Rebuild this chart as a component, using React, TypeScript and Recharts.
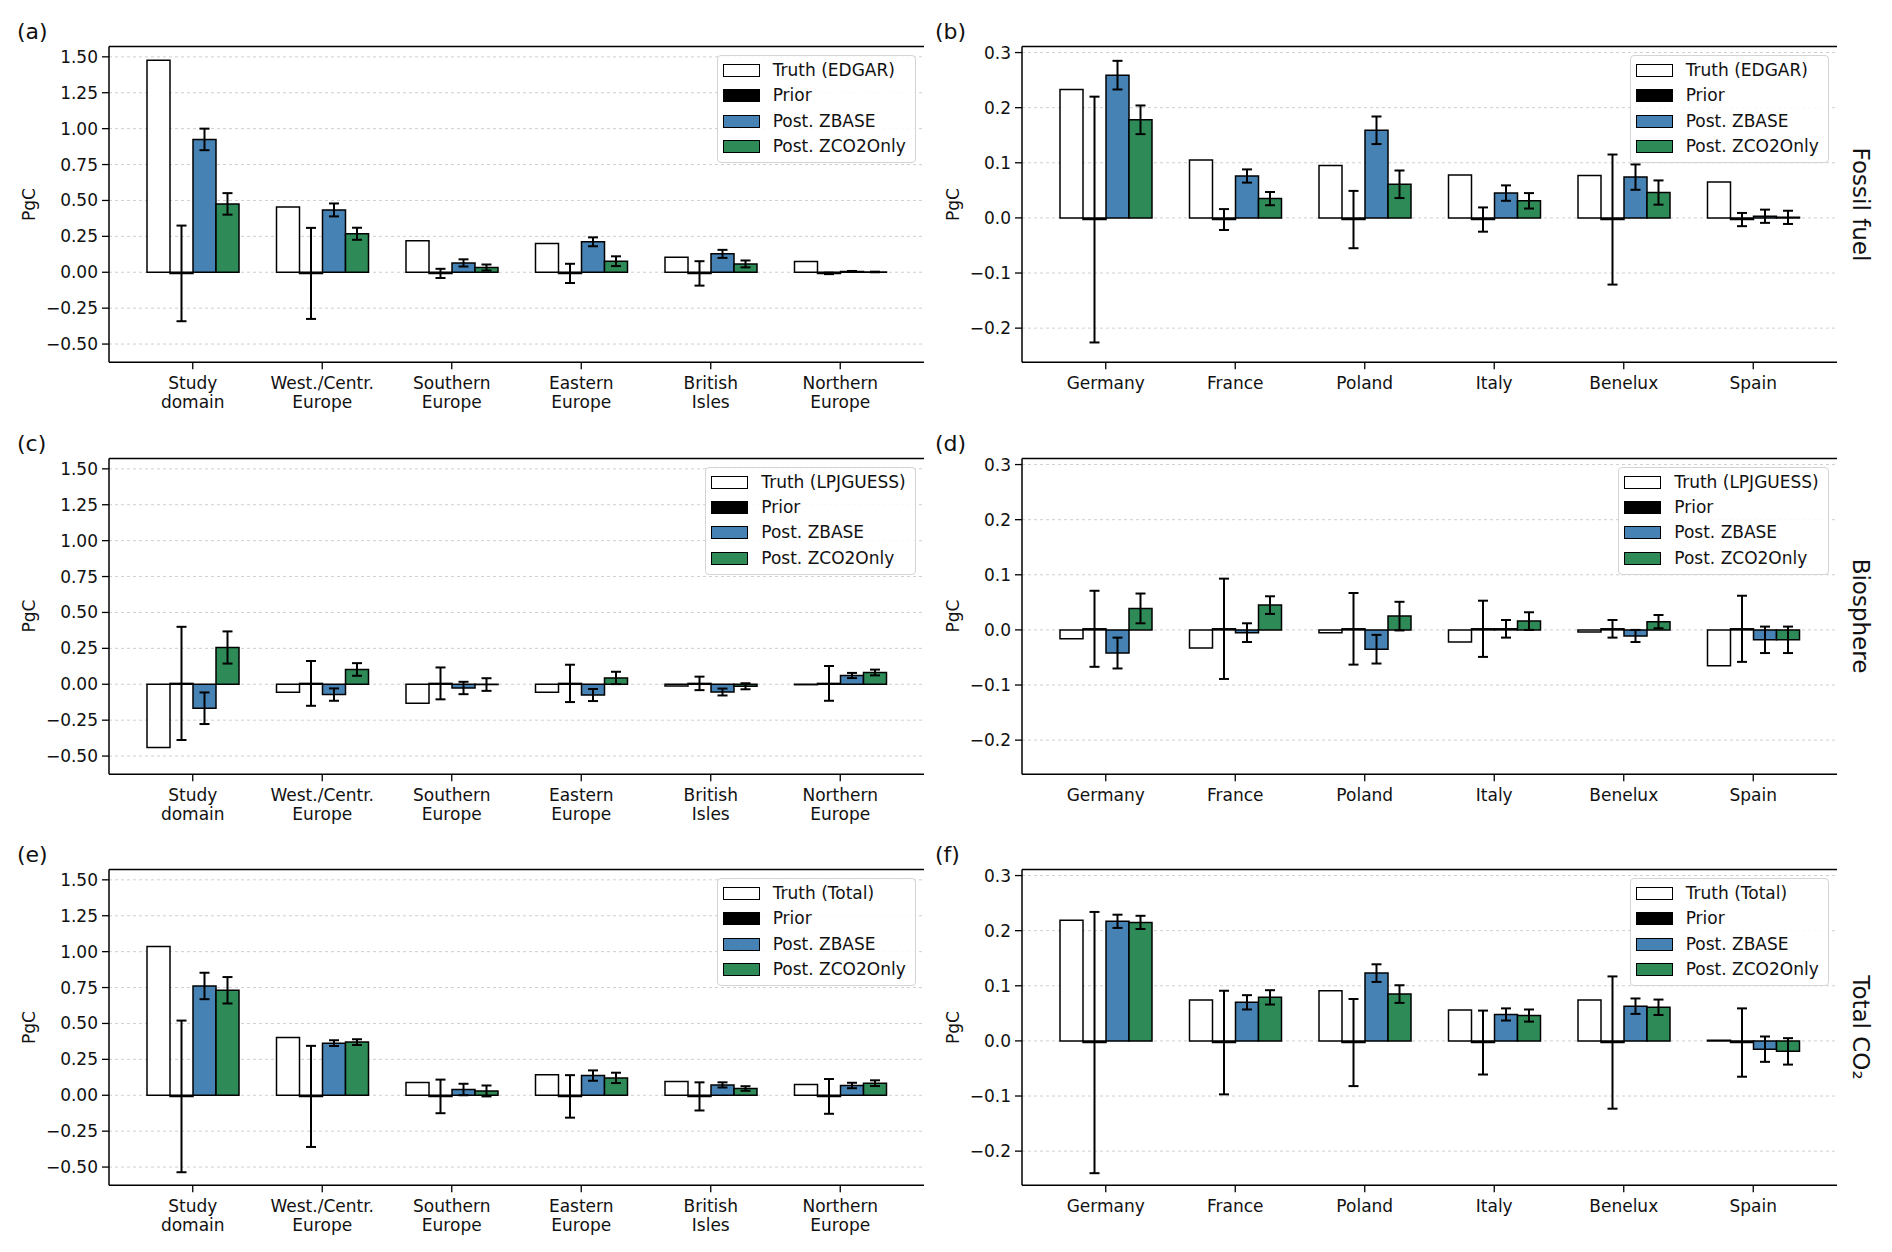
import React from 'react'
import { BarChart, Bar, XAxis, YAxis, CartesianGrid, ErrorBar, Legend, ReferenceLine } from 'recharts'

const FONT = '"DejaVu Sans", sans-serif'
const INK = '#111111'
const BLUE = '#4682b4'
const GREEN = '#2e8b57'

// categories
const regions = ['Study\ndomain', 'West./Centr.\nEurope', 'Southern\nEurope', 'Eastern\nEurope', 'British\nIsles', 'Northern\nEurope']
const countries = ['Germany', 'France', 'Poland', 'Italy', 'Benelux', 'Spain']

// ticks
const regionTicks = [-0.5, -0.25, 0, 0.25, 0.5, 0.75, 1, 1.25, 1.5]
const countryTicks = [-0.2, -0.1, 0, 0.1, 0.2, 0.3]
const regionDomain = [-0.627, 1.572]
const countryDomain = [-0.262, 0.311]

// (a) fossil fuel, regions
const truthA = [1.476, 0.455, 0.219, 0.2, 0.105, 0.075]
const priorA = [-0.008, -0.008, -0.008, -0.008, -0.008, -0.008]
const priorErrA = [0.333, 0.317, 0.032, 0.067, 0.085, 0.005]
const zbaseA = [0.925, 0.434, 0.065, 0.212, 0.128, 0.006]
const zbaseErrA = [0.075, 0.045, 0.025, 0.031, 0.028, 0.003]
const zco2A = [0.476, 0.268, 0.033, 0.077, 0.058, 0.002]
const zco2ErrA = [0.075, 0.042, 0.021, 0.034, 0.024, 0.002]

// (b) fossil fuel, countries
const truthB = [0.233, 0.105, 0.095, 0.078, 0.077, 0.065]
const priorB = [-0.003, -0.003, -0.003, -0.003, -0.003, -0.003]
const priorErrB = [0.223, 0.019, 0.052, 0.022, 0.118, 0.012]
const zbaseB = [0.259, 0.076, 0.159, 0.045, 0.074, 0.003]
const zbaseErrB = [0.026, 0.012, 0.025, 0.014, 0.023, 0.012]
const zco2B = [0.178, 0.035, 0.061, 0.031, 0.046, 0.001]
const zco2ErrB = [0.026, 0.012, 0.025, 0.014, 0.022, 0.012]

// (c) biosphere, regions
const truthC = [-0.44, -0.056, -0.133, -0.056, -0.012, -0.003]
const priorC = [0.006, 0.006, 0.006, 0.006, 0.006, 0.006]
const priorErrC = [0.394, 0.156, 0.111, 0.13, 0.047, 0.121]
const zbaseC = [-0.167, -0.072, -0.026, -0.075, -0.054, 0.061]
const zbaseErrC = [0.11, 0.043, 0.043, 0.042, 0.024, 0.018]
const zco2C = [0.256, 0.103, -0.002, 0.044, -0.014, 0.082]
const zco2ErrC = [0.112, 0.044, 0.044, 0.043, 0.021, 0.02]

// (d) biosphere, countries
const truthD = [-0.016, -0.033, -0.005, -0.022, -0.004, -0.065]
const priorD = [0.002, 0.002, 0.002, 0.002, 0.002, 0.002]
const priorErrD = [0.069, 0.091, 0.065, 0.051, 0.016, 0.06]
const zbaseD = [-0.042, -0.005, -0.035, 0.002, -0.011, -0.018]
const zbaseErrD = [0.028, 0.017, 0.026, 0.016, 0.011, 0.024]
const zco2D = [0.039, 0.045, 0.025, 0.016, 0.015, -0.018]
const zco2ErrD = [0.027, 0.016, 0.026, 0.016, 0.012, 0.024]

// (e) total, regions
const truthE = [1.036, 0.403, 0.088, 0.142, 0.095, 0.075]
const priorE = [-0.008, -0.008, -0.008, -0.008, -0.008, -0.008]
const priorErrE = [0.528, 0.352, 0.117, 0.148, 0.098, 0.121]
const zbaseE = [0.761, 0.363, 0.04, 0.137, 0.072, 0.068]
const zbaseErrE = [0.092, 0.02, 0.04, 0.036, 0.018, 0.019]
const zco2E = [0.731, 0.37, 0.03, 0.121, 0.047, 0.084]
const zco2ErrE = [0.092, 0.02, 0.038, 0.036, 0.016, 0.02]

// (f) total, countries
const truthF = [0.219, 0.074, 0.091, 0.056, 0.074, 0.001]
const priorF = [-0.003, -0.003, -0.003, -0.003, -0.003, -0.003]
const priorErrF = [0.237, 0.094, 0.079, 0.058, 0.12, 0.062]
const zbaseF = [0.217, 0.07, 0.123, 0.048, 0.063, -0.015]
const zbaseErrF = [0.012, 0.013, 0.016, 0.011, 0.014, 0.023]
const zco2F = [0.215, 0.079, 0.085, 0.046, 0.061, -0.019]
const zco2ErrF = [0.012, 0.013, 0.016, 0.011, 0.014, 0.024]

const rowLabels = ['Fossil fuel', 'Biosphere', 'Total CO\u2082']
const truthLabels = ['Truth (EDGAR)', 'Truth (LPJGUESS)', 'Truth (Total)']

function rows(names: string[], truth: number[], prior: number[], priorErr: number[], zbase: number[], zbaseErr: number[], zco2: number[], zco2Err: number[]) {
  return names.map((name, i) => ({
    name,
    truth: truth[i],
    prior: prior[i],
    priorErr: priorErr[i],
    zbase: zbase[i],
    zbaseErr: zbaseErr[i],
    zco2: zco2[i],
    zco2Err: zco2Err[i],
  }))
}

const panelData = [
  [rows(regions, truthA, priorA, priorErrA, zbaseA, zbaseErrA, zco2A, zco2ErrA), rows(countries, truthB, priorB, priorErrB, zbaseB, zbaseErrB, zco2B, zco2ErrB)],
  [rows(regions, truthC, priorC, priorErrC, zbaseC, zbaseErrC, zco2C, zco2ErrC), rows(countries, truthD, priorD, priorErrD, zbaseD, zbaseErrD, zco2D, zco2ErrD)],
  [rows(regions, truthE, priorE, priorErrE, zbaseE, zbaseErrE, zco2E, zco2ErrE), rows(countries, truthF, priorF, priorErrF, zbaseF, zbaseErrF, zco2F, zco2ErrF)],
]

const ROW_STEP = 411.5
const CHART_W = 946
const CHART_H = 412
const PLOT_TOP = 46.5

const fmt = (digits: number) => (v: number) => (v < 0 ? '\u2212' : '') + Math.abs(v).toFixed(digits)

function XTick(props: any) {
  const { x, y, payload } = props
  const lines = String(payload.value).split('\n')
  return (
    <text x={x} y={y} textAnchor="middle" fill={INK} fontSize={17} fontFamily={FONT}>
      {lines.map((l, i) => (
        <tspan key={i} x={x} dy={i === 0 ? 17.5 : 19}>{l}</tspan>
      ))}
    </text>
  )
}

function LegendBox({ truthLabel }: { truthLabel: string }) {
  const items = [
    { label: truthLabel, fill: '#ffffff' },
    { label: 'Prior', fill: '#000000' },
    { label: 'Post. ZBASE', fill: BLUE },
    { label: 'Post. ZCO2Only', fill: GREEN },
  ]
  return (
    <div style={{ border: '1px solid #d4d4d4', borderRadius: 4, background: 'rgba(255,255,255,0.85)', padding: '2px 9px 3px 5px', fontFamily: FONT, fontSize: 17, color: INK, lineHeight: 1 }}>
      {items.map((it) => (
        <div key={it.label} style={{ display: 'flex', alignItems: 'center', height: 25.3 }}>
          <span style={{ display: 'inline-block', boxSizing: 'border-box', width: 37, height: 13, background: it.fill, border: '1.5px solid #000', marginRight: 13 }} />
          <span style={{ whiteSpace: 'nowrap' }}>{it.label}</span>
        </div>
      ))}
    </div>
  )
}

function Panel({ data, left, top, isRegion, truthLabel }: { data: any[]; left: number; top: number; isRegion: boolean; truthLabel: string }) {
  const margin = isRegion
    ? { top: PLOT_TOP, right: 22, bottom: 4.7, left: 48 }
    : { top: PLOT_TOP, right: 55, bottom: 4.7, left: 16 }
  const domain = isRegion ? regionDomain : countryDomain
  const ticks = isRegion ? regionTicks : countryTicks
  const spine = { stroke: '#000', strokeWidth: 1.5 }
  return (
    <div style={{ position: 'absolute', left, top }}>
      <BarChart width={CHART_W} height={CHART_H} data={data} margin={margin} barGap={0} barSize={23}>
        <CartesianGrid vertical={false} stroke="#cfcfcf" strokeDasharray="3 3" />
        <XAxis
          dataKey="name"
          interval={0}
          height={45}
          padding={{ left: 19, right: 19 }}
          tick={<XTick />}
          tickSize={7}
          tickMargin={2}
          axisLine={spine}
          tickLine={{ stroke: '#000', strokeWidth: 1.3 }}
        />
        <XAxis xAxisId="top" dataKey="name" orientation="top" height={0} tick={false} tickLine={false} axisLine={spine} />
        <YAxis
          type="number"
          domain={domain}
          ticks={ticks}
          allowDataOverflow
          interval={0}
          width={isRegion ? 61 : 60}
          tickFormatter={fmt(isRegion ? 2 : 1)}
          tick={{ fill: INK, fontSize: 17, fontFamily: FONT }}
          tickSize={7}
          tickMargin={4}
          axisLine={spine}
          tickLine={{ stroke: '#000', strokeWidth: 1.3 }}
        />
        <YAxis yAxisId="right" orientation="right" type="number" domain={domain} allowDataOverflow width={0} tick={false} tickLine={false} axisLine={spine} />
        <ReferenceLine y={domain[1]} stroke="#000" strokeWidth={1.5} />
        <Legend
          layout="vertical"
          align="center"
          verticalAlign="middle"
          content={() => <LegendBox truthLabel={truthLabel} />}
          wrapperStyle={{ top: PLOT_TOP + 8.5, right: margin.right + 8.3, left: 'auto', width: 'auto' }}
        />
        <Bar dataKey="truth" fill="#ffffff" stroke="#000" strokeWidth={1.5} isAnimationActive={false} />
        <Bar dataKey="prior" fill="#000000" stroke="#000" strokeWidth={1.5} isAnimationActive={false}>
          <ErrorBar dataKey="priorErr" width={5} stroke="#000" strokeWidth={2} />
        </Bar>
        <Bar dataKey="zbase" fill={BLUE} stroke="#000" strokeWidth={1.5} isAnimationActive={false}>
          <ErrorBar dataKey="zbaseErr" width={5} stroke="#000" strokeWidth={2} />
        </Bar>
        <Bar dataKey="zco2" fill={GREEN} stroke="#000" strokeWidth={1.5} isAnimationActive={false}>
          <ErrorBar dataKey="zco2Err" width={5} stroke="#000" strokeWidth={2} />
        </Bar>
      </BarChart>
    </div>
  )
}

export default function App() {
  const letters = [['(a)', '(b)'], ['(c)', '(d)'], ['(e)', '(f)']]
  return (
    <div style={{ position: 'absolute', left: 0, top: 0, width: 1892, height: 1252, background: '#fff', fontFamily: FONT, color: INK }}>
      {panelData.map((pair, r) => (
        <React.Fragment key={r}>
          <Panel data={pair[0]} left={0} top={r * ROW_STEP} isRegion truthLabel={truthLabels[r]} />
          <Panel data={pair[1]} left={946} top={r * ROW_STEP} isRegion={false} truthLabel={truthLabels[r]} />
        </React.Fragment>
      ))}
      <svg width={1892} height={1252} style={{ position: 'absolute', left: 0, top: 0, pointerEvents: 'none' }}>
        {rowLabels.map((label, r) => {
          const base = r * ROW_STEP
          const mid = base + 204.5
          return (
            <g key={label} fill={INK} fontFamily={FONT}>
              <text x={17} y={base + 39} fontSize={22}>{letters[r][0]}</text>
              <text x={935} y={base + 39} fontSize={22}>{letters[r][1]}</text>
              <text x={29} y={mid} fontSize={17} textAnchor="middle" dominantBaseline="central" transform={`rotate(-90 29 ${mid})`}>PgC</text>
              <text x={953} y={mid} fontSize={17} textAnchor="middle" dominantBaseline="central" transform={`rotate(-90 953 ${mid})`}>PgC</text>
              <text x={1861} y={mid} fontSize={23} textAnchor="middle" dominantBaseline="central" transform={`rotate(90 1861 ${mid})`}>{label}</text>
            </g>
          )
        })}
      </svg>
    </div>
  )
}
